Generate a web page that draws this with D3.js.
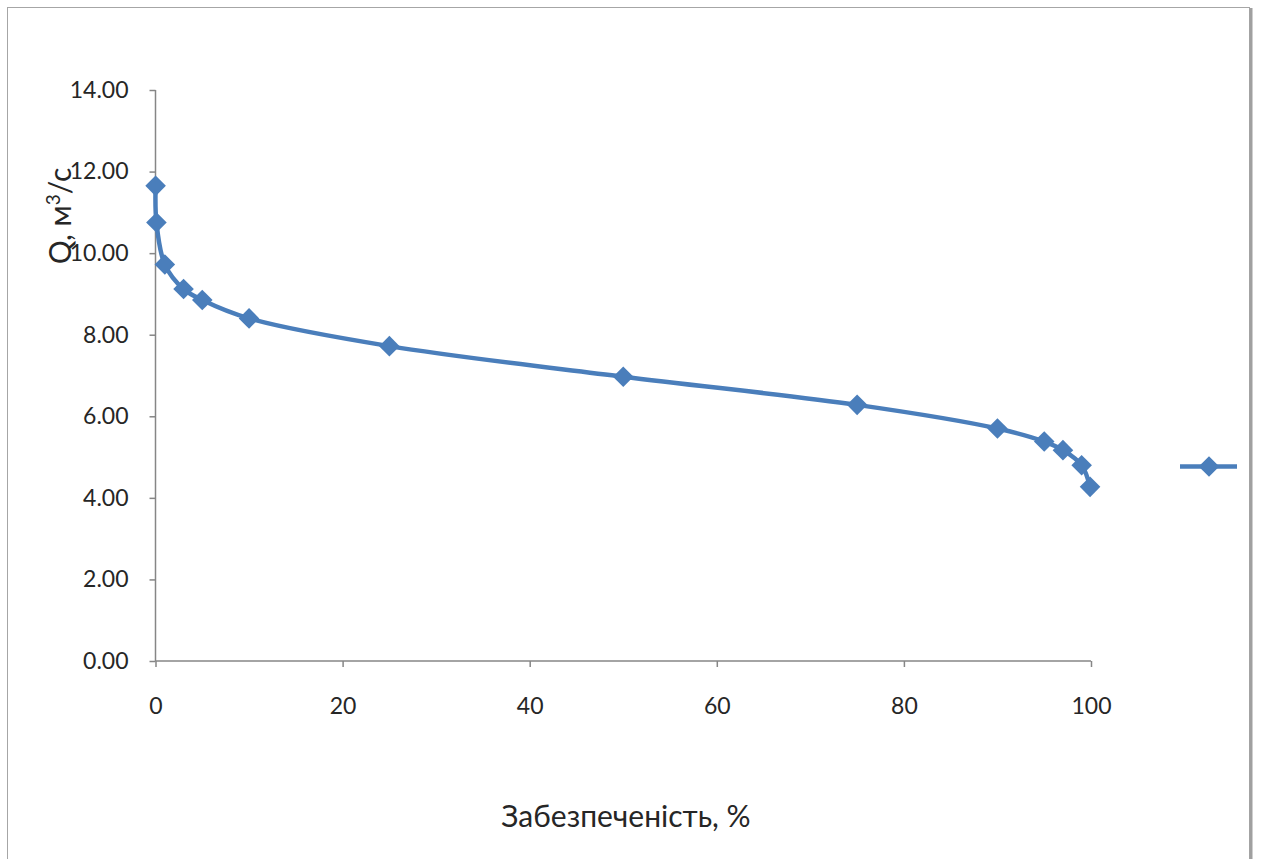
<!DOCTYPE html>
<html><head><meta charset="utf-8">
<script src="https://cdn.jsdelivr.net/npm/d3@7"></script>
<style>body{margin:0;background:#fff}svg{display:block}</style>
</head><body>
<svg id="c" width="1262" height="859"></svg>
<script>
const probability = [0.01, 0.1, 1, 3, 5, 10, 25, 50, 75, 90, 95, 97, 99, 99.9];
const discharge = [11.65, 10.75, 9.72, 9.12, 8.85, 8.40, 7.72, 6.97, 6.28, 5.70, 5.38, 5.17, 4.80, 4.27];
const xTicks = [0, 20, 40, 60, 80, 100];
const yTicks = [0, 2, 4, 6, 8, 10, 12, 14];

const svg = d3.select("#c");
const font = "Lato, 'Open Sans', sans-serif";
const color = "#4A7EBB";
const textColor = "#262626";

// outer frame
svg.append("rect").attr("x", 7.5).attr("y", 7.5).attr("width", 1242).attr("height", 900)
  .attr("fill", "#fff").attr("stroke", "#a6a6a6").attr("stroke-width", 1);
svg.append("line").attr("x1", 1251).attr("x2", 1251).attr("y1", 8).attr("y2", 859)
  .attr("stroke", "#a0a0a0").attr("stroke-width", 3);

const x = d3.scaleLinear().domain([0, 100]).range([155.5, 1091]);
const y = d3.scaleLinear().domain([0, 14]).range([661, 90]);

const xAxis = svg.append("g").attr("transform", "translate(0,661)")
  .call(d3.axisBottom(x).tickValues(xTicks).tickSize(6).tickPadding(31).tickFormat(d3.format("d")));
const yAxis = svg.append("g").attr("transform", "translate(155.5,0)")
  .call(d3.axisLeft(y).tickValues(yTicks).tickSize(6).tickPadding(21).tickFormat(d3.format(".2f")));
[xAxis, yAxis].forEach(g => {
  g.selectAll("path.domain, line").attr("stroke", "#868686").attr("stroke-width", 1.5);
  g.selectAll("text").attr("font-family", font).attr("font-size", 23).attr("fill", textColor);
});
xAxis.select("path.domain").attr("d", "M155.5,0H1091");
yAxis.select("path.domain").attr("d", "M0,661V90");

// line
const line = d3.line().x((d, i) => x(probability[i])).y(d => y(d)).curve(d3.curveCatmullRom.alpha(0.5));
svg.append("path").datum(discharge).attr("d", line).attr("fill", "none")
  .attr("stroke", color).attr("stroke-width", 4.5).attr("stroke-linejoin", "round");

const diamond = d3.symbol().type(d3.symbolDiamond2).size(270);
svg.append("g").selectAll("path").data(discharge).join("path")
  .attr("d", diamond)
  .attr("transform", (d, i) => `translate(${x(probability[i])},${y(d)})`)
  .attr("fill", color);

// legend (no label)
svg.append("line").attr("x1", 1180).attr("x2", 1237).attr("y1", 466.5).attr("y2", 466.5)
  .attr("stroke", color).attr("stroke-width", 4.5);
svg.append("path").attr("d", diamond).attr("transform", "translate(1209,466.5)").attr("fill", color);

// titles
svg.append("text").attr("x", 626).attr("y", 827).attr("text-anchor", "middle")
  .attr("font-family", font).attr("font-size", 30).attr("fill", textColor).text("Забезпеченість, %");

const yt = svg.append("text").attr("transform", "translate(71,216) rotate(-90)").attr("text-anchor", "middle")
  .attr("font-family", font).attr("font-size", 30).attr("fill", textColor);
yt.append("tspan").text("Q, м");
yt.append("tspan").attr("font-size", 19).attr("dy", -11).text("3");
yt.append("tspan").attr("dy", 11).text("/с");
</script>
</body></html>
